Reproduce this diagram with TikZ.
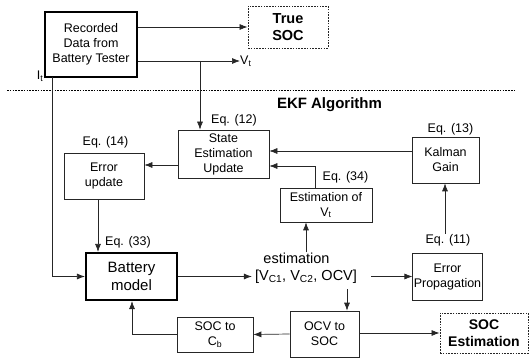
\documentclass[tikz,border=0pt]{standalone}
\usepackage{fontspec}
\setmainfont{Liberation Sans}
\usetikzlibrary{arrows.meta}

\begin{document}
\begin{tikzpicture}[x=1pt,y=-1pt,
  blk/.style={draw=black!85,line width=0.7pt,align=center,inner sep=1pt,
    font=\fontsize{12.5}{15}\selectfont},
  thickblk/.style={blk,line width=2.2pt,draw=black},
  dotblk/.style={draw=black!85,line width=0.9pt,dash pattern=on 1.6pt off 1.2pt,
    align=center,inner sep=1pt},
  eqlbl/.style={inner sep=0pt,font=\fontsize{12.5}{15}\selectfont},
  arr/.style={line width=0.7pt,draw=black!85,-{Latex[length=8pt,width=6pt]}},
  ln/.style={line width=0.7pt,draw=black!85}]

\useasboundingbox (0,0) rectangle (530,358);

% boxes
\node[thickblk,minimum width=92pt,minimum height=65pt] (rec) at (91,44.5)
  {Recorded\\Data from\\Battery Tester};
\node[dotblk,minimum width=80pt,minimum height=42pt,
  font=\fontsize{14.5}{17.5}\selectfont\bfseries] (true) at (288,27) {True\\SOC};
\node[blk,minimum width=91pt,minimum height=48pt] (state) at (223.5,154)
  {State\\Estimation\\Update};
\node[blk,minimum width=80pt,minimum height=46pt] (errupd) at (104,176) {Error\\update};
\node[blk,minimum width=67pt,minimum height=46pt] (kalman) at (445.5,160) {Kalman\\Gain};
\node[blk,minimum width=92pt,minimum height=34pt] (estvt) at (326,205)
  {Estimation of\\V\textsubscript{t}};
\node[thickblk,minimum width=91pt,minimum height=47pt,
  font=\fontsize{15}{18}\selectfont] (battery) at (131.5,276.5) {Battery\\model};
\node[blk,minimum width=61pt,minimum height=47pt] (errprop) at (447.5,276.5)
  {Error\\Propagation};
\node[blk,minimum width=69pt,minimum height=46pt] (ocvsoc) at (324.5,334) {OCV to\\SOC};
\node[blk,minimum width=76pt,minimum height=35pt] (soccb) at (215,334.5)
  {SOC to\\C\textsubscript{b}};
\node[dotblk,minimum width=88pt,minimum height=40pt,
  font=\fontsize{14}{16.5}\selectfont\bfseries] (socest) at (484,333) {SOC\\Estimation};

% texts
\node[eqlbl,anchor=west] (vt) at (240,61) {V\textsubscript{t}};
\node[eqlbl] (it) at (40,76) {I\textsubscript{t}};
\node[inner sep=0pt,font=\fontsize{15}{18}\selectfont\bfseries] (ekf) at (329.5,105)
  {EKF Algorithm};
\node[inner sep=0pt,font=\fontsize{14.5}{17}\selectfont] (estim) at (296.5,258) {estimation};
\node[inner sep=0pt,font=\fontsize{14.5}{17}\selectfont] (vec) at (306,276.5)
  {[V\textsubscript{C1}, V\textsubscript{C2}, OCV]};
\node[eqlbl] (eq12) at (234,120) {Eq. (12)};
\node[eqlbl] (eq14) at (105.5,142) {Eq. (14)};
\node[eqlbl] (eq13) at (450.5,129) {Eq. (13)};
\node[eqlbl] (eq34) at (345.5,177) {Eq. (34)};
\node[eqlbl] (eq33) at (128,242) {Eq. (33)};
\node[eqlbl] (eq11) at (448,240) {Eq. (11)};

\coordinate (tap) at (200,61);
\coordinate (itap) at (52,77);
\coordinate (vdn) at (347,289);

% separator
\draw[line width=0.9pt,dash pattern=on 1.6pt off 1.2pt] (7,90) -- (515,90);

% connectors
\draw[arr] (rec.east |- true.west) -- (true.west);
\draw[arr] (rec.east |- vt) -- (vt);
\draw[arr] (tap) -- (tap |- state.north);
\draw[arr] (itap) |- (battery.west);
\draw[arr] (state.west |- 0,165) -- (errupd.east |- 0,165);
\draw[arr] (errupd.south -| 98,0) -- (battery.north -| 98,0);
\draw[arr] (kalman.west |- 0,151) -- (state.east |- 0,151);
\draw[arr] (estvt.north -| 315,0) |- (state.east |- 0,166);
\draw[arr] (estim.north -| 306,0) -- (estvt.south -| 306,0);
\draw[arr,shorten >=3pt] (battery.east) -- (vec.west);
\draw[arr,shorten <=14pt] (vec.east) -- (errprop.west);
\draw[arr] (eq11.north -| 445,0) -- (kalman.south -| 445,0);
\draw[arr] (vdn) -- (vdn |- ocvsoc.north);
\draw[arr] (ocvsoc.west) -- (soccb.east);
\draw[arr] (ocvsoc.east |- socest.west) -- (socest.west);
\draw[arr] (soccb.west) -| (battery.south -| 132,0);

\end{tikzpicture}
\end{document}
